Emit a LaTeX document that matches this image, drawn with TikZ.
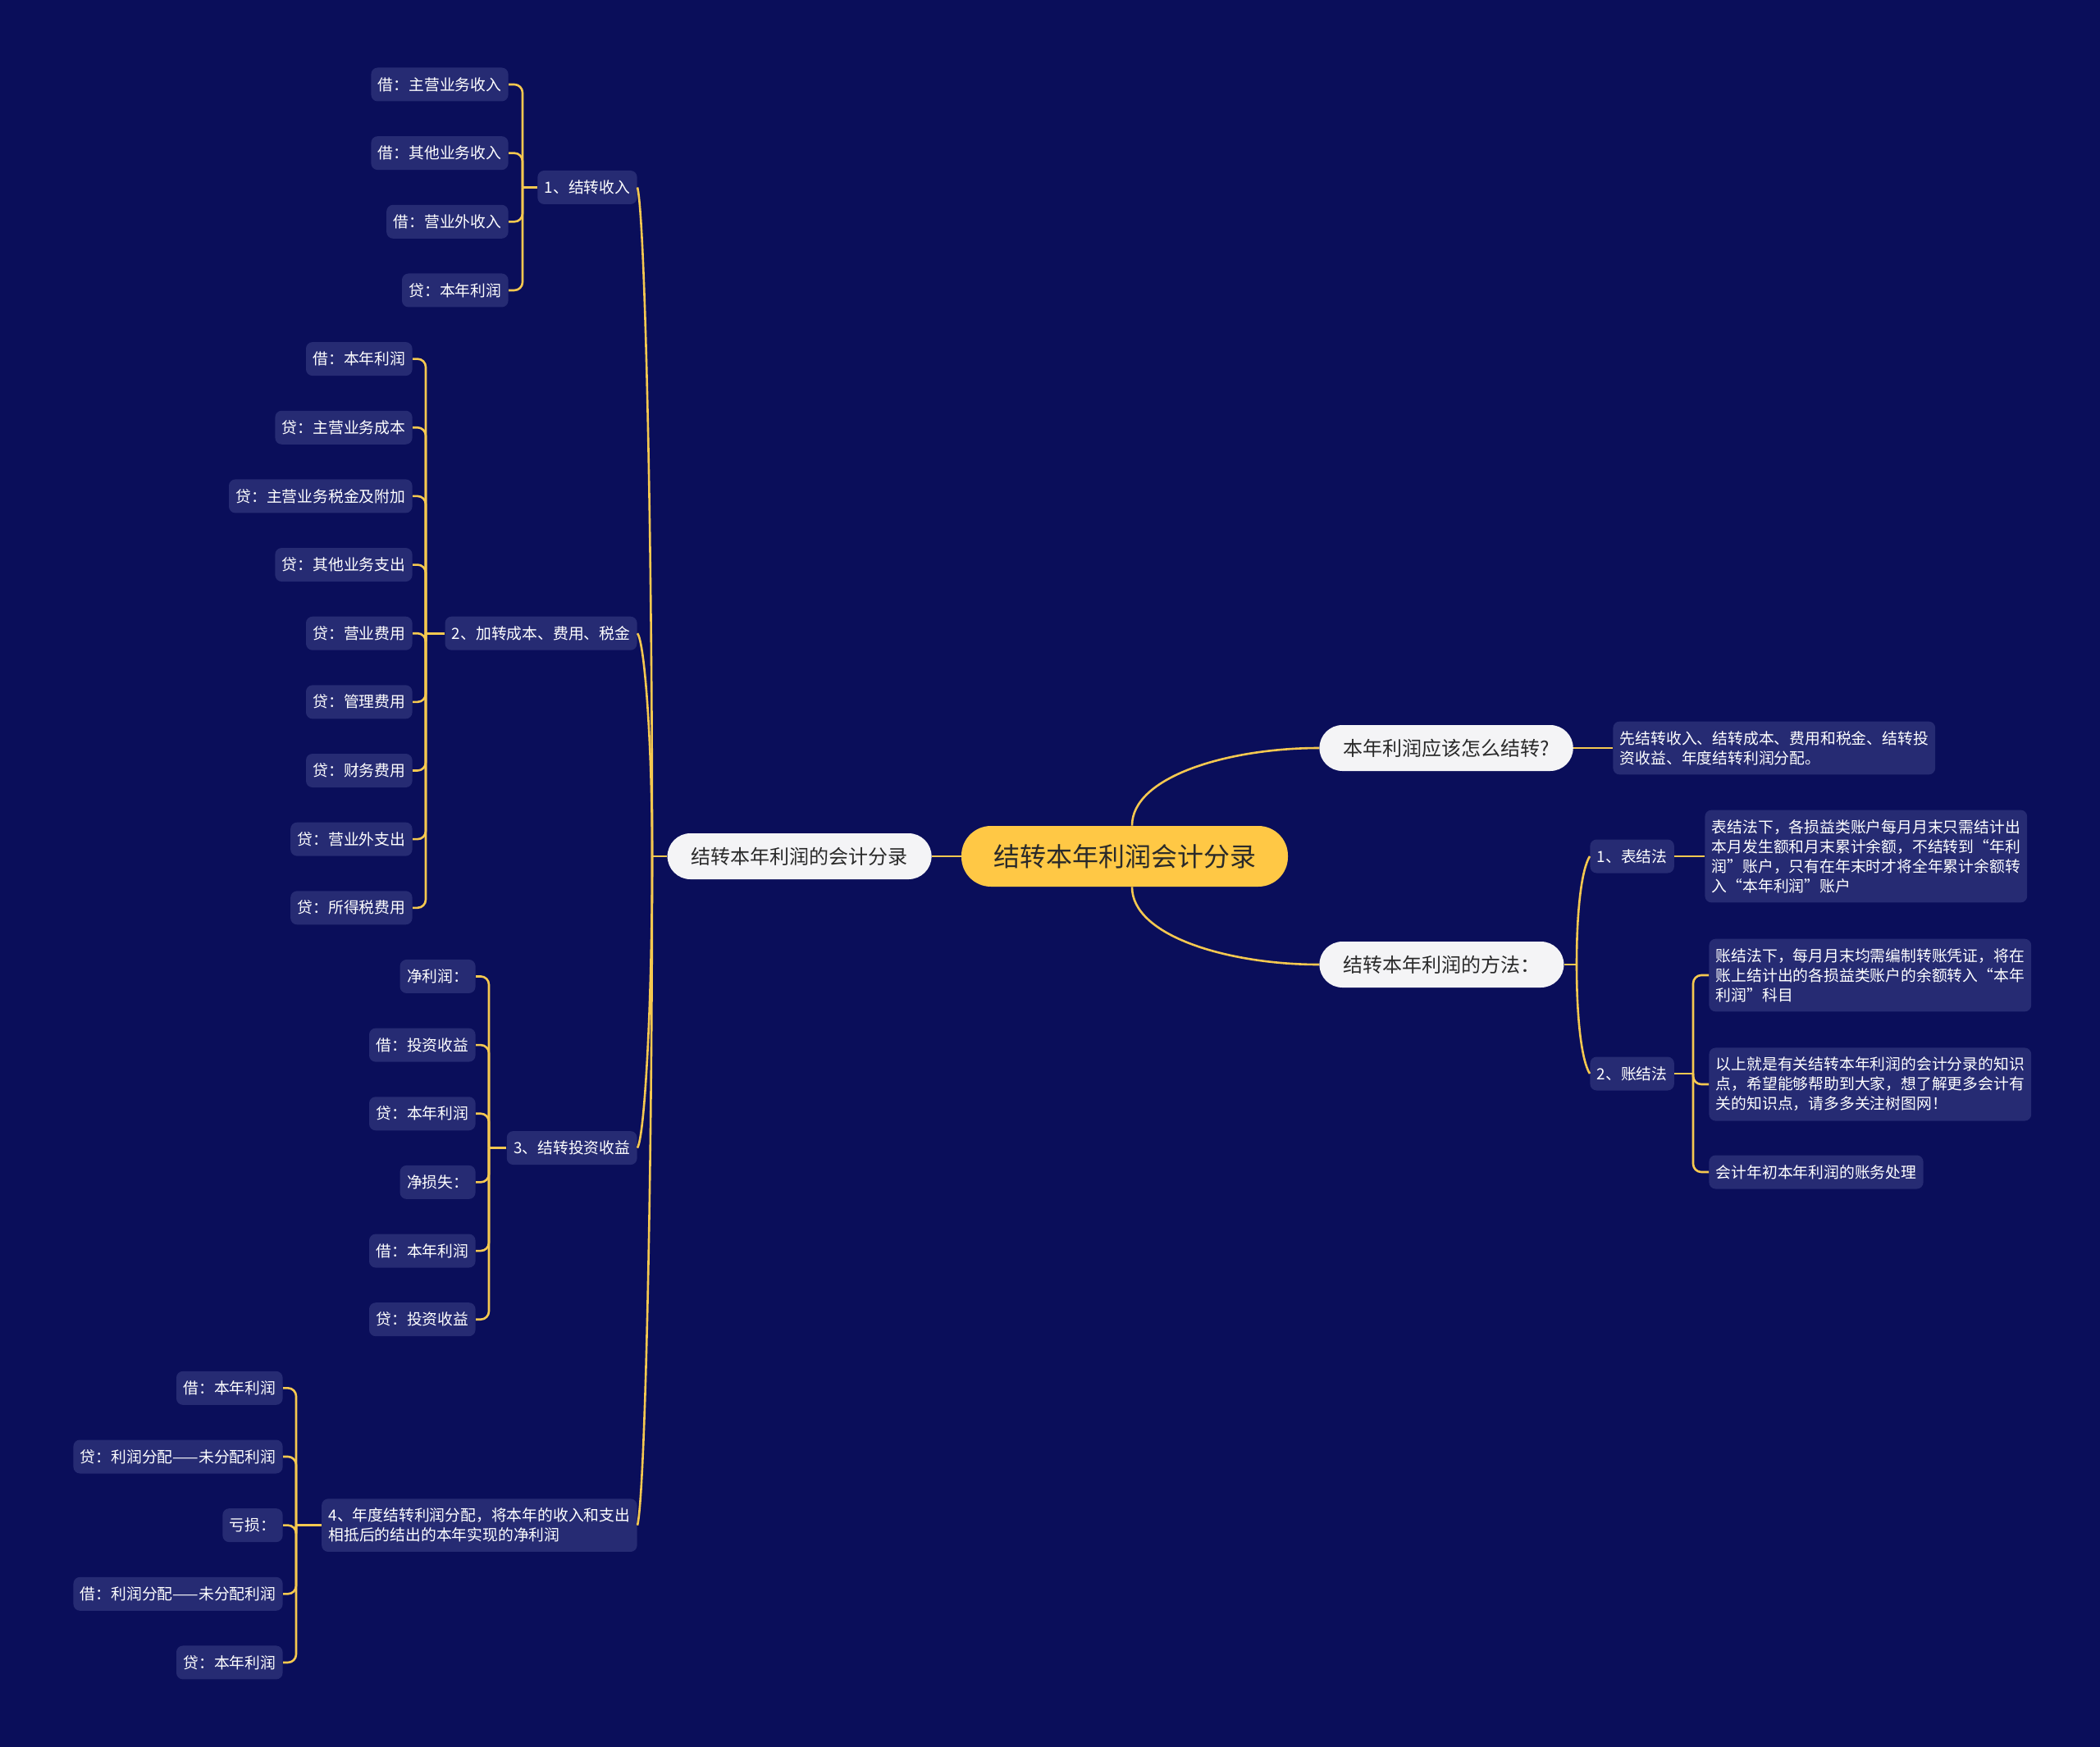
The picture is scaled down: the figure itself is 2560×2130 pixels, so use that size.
\documentclass[tikz,border=0pt]{standalone}
\usepackage{fontspec}
\setmainfont{Noto Sans CJK SC}
\usepackage{tikz}
\usetikzlibrary{calc}
\usepackage{xcolor}
\definecolor{NightBlue}{HTML}{0A0E5A}
\definecolor{LeafBlue}{HTML}{262B73}
\definecolor{LinkGold}{HTML}{F5C850}
\definecolor{RootGold}{HTML}{FFC845}
\definecolor{PillWhite}{HTML}{F4F4F6}
\definecolor{InkGray}{HTML}{2A2A2A}

\tikzset{
  rootpill/.style={fill=RootGold, text=InkGray, rounded corners=18pt,
    minimum height=37pt, inner xsep=19.5pt, font=\fontsize{16}{19}\selectfont},
  topicpill/.style={fill=PillWhite, text=InkGray, rounded corners=14pt,
    minimum height=28pt, inner xsep=14.5pt, font=\fontsize{12}{14}\selectfont},
  leafbox/.style={fill=LeafBlue, text=white, rounded corners=4pt,
    minimum height=20.5pt, inner xsep=4.2pt, inner ysep=5.8pt, align=left,
    font=\fontsize{9.4}{12}\selectfont},
  curvelink/.style={draw=LinkGold, line width=1.3pt},
  bracketlink/.style={draw=LinkGold, line width=1.3pt, rounded corners=5pt}
}

\begin{document}
\begin{tikzpicture}[x=0.5pt, y=-0.5pt]
  \fill[NightBlue] (0,0) rectangle (2560,2130);

  % centre and first level
  \node[rootpill] (root) at (1371,1044) {结转本年利润会计分录};
  \node[topicpill, anchor=east] (entries) at (1136,1044) {结转本年利润的会计分录};
  \node[topicpill, anchor=west] (howto) at (1608,912) {本年利润应该怎么结转?};
  \node[topicpill, anchor=west] (methods) at (1608,1176) {结转本年利润的方法：};
  \draw[curvelink] (entries.east) -- (root.west);
  \draw[curvelink] ($(root.north)+(9,0)$) .. controls +(0,-60) and +(-110,0) .. (howto.west);
  \draw[curvelink] ($(root.south)+(9,0)$) .. controls +(0,60) and +(-110,0) .. (methods.west);

  % right side
  \node[leafbox, anchor=west] (howans) at (1966,912)
    {先结转收入、结转成本、费用和税金、结转投\\资收益、年度结转利润分配。};
  \draw[curvelink] (howto.east) -- (howans.west);

  \node[leafbox, anchor=west] (tablem) at (1938,1044) {1、表结法};
  \node[leafbox, anchor=west] (acctm) at (1938,1309) {2、账结法};
  \coordinate (jmeth) at (1922,1176);
  \draw[curvelink] (methods.east) -- (jmeth);
  \draw[curvelink] (jmeth) .. controls +(0,-66) and +(-10,16) .. (tablem.west);
  \draw[curvelink] (jmeth) .. controls +(0,66) and +(-10,-16) .. (acctm.west);

  \node[leafbox, anchor=west] (tabletxt) at (2078,1044)
    {表结法下，各损益类账户每月月末只需结计出\\本月发生额和月末累计余额，不结转到“年利\\润”账户，只有在年末时才将全年累计余额转\\入“本年利润”账户};
  \draw[curvelink] (tablem.east) -- (tabletxt.west);

  \node[leafbox, anchor=west] (accta) at (2083,1189)
    {账结法下，每月月末均需编制转账凭证，将在\\账上结计出的各损益类账户的余额转入“本年\\利润”科目};
  \node[leafbox, anchor=west] (acctb) at (2083,1322)
    {以上就是有关结转本年利润的会计分录的知识\\点，希望能够帮助到大家，想了解更多会计有\\关的知识点，请多多关注树图网！};
  \node[leafbox, anchor=west] (acctc) at (2083,1429) {会计年初本年利润的账务处理};
  \coordinate (jacct) at (2064,1309);
  \draw[bracketlink] (acctm.east) -- (jacct);
  \foreach \n in {accta,acctb,acctc}
    \draw[bracketlink] (jacct) |- (\n.west);

  % left side, second level
  \node[leafbox, anchor=east] (income) at (777,228.475) {1、结转收入};
  \node[leafbox, anchor=east] (costs) at (777,772.2) {2、加转成本、费用、税金};
  \node[leafbox, anchor=east] (invest) at (777,1399.575) {3、结转投资收益};
  \node[leafbox, anchor=east] (yearend) at (777,1859.65)
    {4、年度结转利润分配，将本年的收入和支出\\相抵后的结出的本年实现的净利润};
  \coordinate (jtrunk) at (795,1044);
  \draw[curvelink] (entries.west) -- (jtrunk);
  \foreach \n/\d in {income/-815.5,costs/-271.8,invest/355.6,yearend/815.65}
    \draw[curvelink] (jtrunk) .. controls +(0,{0.5*\d}) and +(9,{-0.04*\d}) .. (\n.east);

  % left side, entries
  \coordinate (jinc) at (637,228.475);
  \draw[bracketlink] (income.west) -- (jinc);
  \foreach \txt [count=\i from 0] in {借：主营业务收入,借：其他业务收入,借：营业外收入,贷：本年利润}{
    \node[leafbox, anchor=east] (inc\i) at (620,{103+83.65*\i}) {\txt};
    \draw[bracketlink] (jinc) |- (inc\i.east);
  }

  \coordinate (jcost) at (519,772.2);
  \draw[bracketlink] (costs.west) -- (jcost);
  \foreach \txt [count=\i from 4] in {借：本年利润,贷：主营业务成本,贷：主营业务税金及附加,贷：其他业务支出,贷：营业费用,贷：管理费用,贷：财务费用,贷：营业外支出,贷：所得税费用}{
    \node[leafbox, anchor=east] (cost\i) at (503,{103+83.65*\i}) {\txt};
    \draw[bracketlink] (jcost) |- (cost\i.east);
  }

  \coordinate (jinv) at (596,1399.575);
  \draw[bracketlink] (invest.west) -- (jinv);
  \foreach \txt [count=\i from 13] in {净利润：,借：投资收益,贷：本年利润,净损失：,借：本年利润,贷：投资收益}{
    \node[leafbox, anchor=east] (inv\i) at (580,{103+83.65*\i}) {\txt};
    \draw[bracketlink] (jinv) |- (inv\i.east);
  }

  \coordinate (jyear) at (361,1859.65);
  \draw[bracketlink] (yearend.west) -- (jyear);
  \foreach \txt [count=\i from 19] in {借：本年利润,贷：利润分配——未分配利润,亏损：,借：利润分配——未分配利润,贷：本年利润}{
    \node[leafbox, anchor=east] (year\i) at (345,{103+83.65*\i}) {\txt};
    \draw[bracketlink] (jyear) |- (year\i.east);
  }
\end{tikzpicture}
\end{document}
